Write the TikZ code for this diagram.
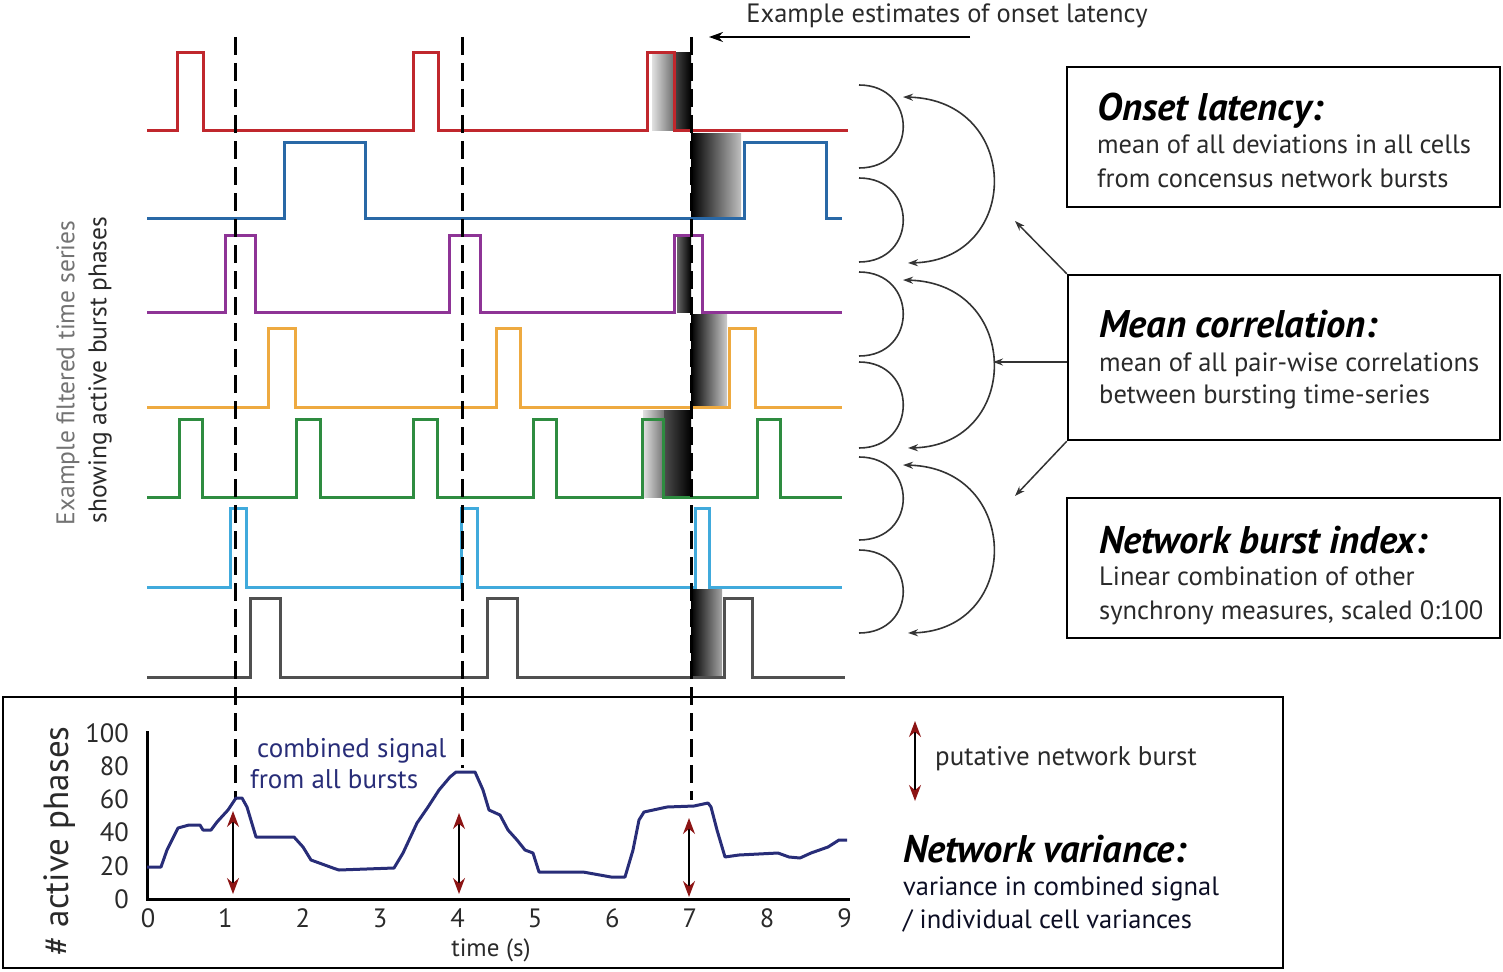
\documentclass[tikz,border=0pt]{standalone}
\usepackage{fontspec}
\setmainfont{PT Sans}
\usetikzlibrary{arrows.meta,calc}
\definecolor{tred}{HTML}{C0272D}
\definecolor{tblue}{HTML}{2968A6}
\definecolor{tpurple}{HTML}{8E3496}
\definecolor{torange}{HTML}{EEAA40}
\definecolor{tgreen}{HTML}{2E8C40}
\definecolor{tcyan}{HTML}{40AADC}
\definecolor{tgray}{HTML}{505050}
\definecolor{tnavy}{HTML}{282D78}
\definecolor{tdred}{HTML}{8C1414}
\definecolor{txt}{HTML}{2A2A2A}
\begin{document}
\begin{tikzpicture}[x=1pt,y=-1pt,
  trace/.style={line width=3pt,line join=miter},
  vdash/.style={line width=3pt,dash pattern=on 18pt off 8pt},
  smallarc/.style={line width=1.6pt,black!80},
  bigarc/.style={line width=1.6pt,black!80,{Stealth[length=10pt,width=7pt]}-{Stealth[length=10pt,width=7pt]}},
  conn/.style={line width=1.5pt,black!80,-{Stealth[length=10pt,width=7pt]}},
  box/.style={draw,line width=2.5pt,inner sep=0pt,fill=none},
  hdr/.style={font=\fontsize{38.5}{42}\selectfont\bfseries\itshape,anchor=base west,inner sep=0pt,text=black},
  body/.style={font=\fontsize{26.5}{30}\selectfont,anchor=base west,inner sep=0pt,text=txt},
  tick/.style={font=\fontsize{26.5}{30}\selectfont,inner sep=0pt,text=txt},
  burst/.style={line width=1.3pt,black,{Stealth[length=16pt,width=12pt,color=tdred]}-{Stealth[length=16pt,width=12pt,color=tdred]}}
]
\useasboundingbox (0,0) rectangle (1503,971);

% ---- gradients around third consensus burst ----
\shade[left color=black!12,right color=black!55] (652,53) rectangle (673,130);
\shade[left color=black!70,right color=black] (673,53) rectangle (691,130);
\shade[left color=black,right color=black!25] (691,133) rectangle (741,218);
\shade[left color=black!60,right color=black] (677,235) rectangle (691,312);
\shade[left color=black,right color=black!20] (691,314) rectangle (727,406);
\shade[left color=black!12,right color=black!55] (643,410) rectangle (664,497);
\shade[left color=black!70,right color=black] (664,410) rectangle (691,497);
\shade[left color=black,right color=black!35] (691,589) rectangle (722,677);

% ---- traces ----
\draw[trace,tred] (147,130) -| (177,53) -| (203,130) -| (413,53) -| (438,130) -| (647,53) -| (674,130) -- (848,130);
\draw[trace,tblue] (147,218) -| (284,142) -| (365,218) -| (744,142) -| (826,218) -- (842,218);
\draw[trace,tpurple] (147,312) -| (225,235) -| (255,312) -| (449,235) -| (480,312) -| (674,235) -| (702,312) -- (842,312);
\draw[trace,torange] (147,407) -| (268,328) -| (295,407) -| (496,328) -| (520,407) -| (729,328) -| (755,407) -- (842,407);
\draw[trace,tgreen] (147,497) -| (179,419) -| (202,497) -| (296,419) -| (320,497) -| (413,419) -| (437,497) -| (533,419) -| (556,497) -| (642,419) -| (663,497) -| (757,419) -| (780,497) -- (842,497);
\draw[trace,tcyan] (147,587) -| (230,508) -| (246,587) -| (461,508) -| (477,587) -| (695,508) -| (709,587) -- (842,587);
\draw[trace,tgray] (147,677) -| (250,598) -| (280,677) -| (487,598) -| (517,677) -| (724,598) -| (752,677) -- (845,677);

% ---- consensus lines ----
\coordinate (d1t) at (235,37); \coordinate (d1b) at (235,800);
\coordinate (d2t) at (462,37); \coordinate (d2b) at (462,768);
\coordinate (d3t) at (691,37); \coordinate (d3b) at (691,800);
\draw[vdash] (d1t) -- (d1b);
\draw[vdash] (d2t) -- (d2b);
\draw[vdash] (d3t) -- (d3b);

% ---- top label ----
\node[font=\fontsize{26.5}{30}\selectfont,text=txt,inner sep=0pt] (est) at (947,16) {Example estimates of onset latency};
\coordinate (estA) at (970,37);
\coordinate (estB) at (709,37);
\draw[line width=2pt,-{Stealth[length=14pt,width=10pt]}] (estA) -- (estB);

% ---- left labels ----
\node[rotate=90,font=\fontsize{25.5}{28}\selectfont,text=black!55,inner sep=0pt] (ylab1) at (68,373) {Example filtered time series};
\node[rotate=90,font=\fontsize{25.5}{28}\selectfont,text=txt,inner sep=0pt] (ylab2) at (100,370) {showing active burst phases};

% ---- small arcs ----
\foreach \a/\b in {85/168,178/262,272/356,362/448,457/540,550/633}{
  \draw[smallarc] (859,\a) .. controls (918,\a) and (918,\b) .. (859,\b);
}
% ---- big arcs ----
\foreach \a/\b in {97/263,280/448,465/633}{
  \draw[bigarc] (903,\a) .. controls (1022,\a+3) and (1022,\b-3) .. (908,\b);
}

% ---- boxes ----
\node[box,minimum width=433pt,minimum height=140pt] (onset) at (1283.5,137) {};
\node[box,minimum width=432pt,minimum height=165pt] (meancorr) at (1284,357.5) {};
\node[box,minimum width=433pt,minimum height=140pt] (nbi) at (1283.5,568) {};

\node[hdr] (t1) at (1097,121) {Onset latency:};
\node[body] (t1a) at (1097,153) {mean of all deviations in all cells};
\node[body] (t1b) at (1097,187) {from concensus network bursts};

\node[hdr] (t2) at (1099,337) {Mean correlation:};
\node[body] (t2a) at (1099,371) {mean of all pair-wise correlations};
\node[body] (t2b) at (1099,403) {between bursting time-series};

\node[hdr] (t3) at (1099,553) {Network burst index:};
\node[body] (t3a) at (1099,585) {Linear combination of other};
\node[body] (t3b) at (1099,619) {synchrony measures, scaled 0:100};

\coordinate (c1) at (1015,221);
\coordinate (c2) at (993,362);
\coordinate (c3) at (1015,496);
\draw[conn] (meancorr.north west) -- (c1);
\draw[conn] (meancorr.west |- c2) -- (c2);
\draw[conn] (meancorr.south west) -- (c3);

% ---- bottom panel ----
\node[box,minimum width=1280pt,minimum height=271pt] (panel) at (643,832.5) {};
\draw[line width=3pt] (147,731) -- (147,899) -- (850,899);
\foreach \v in {0,20,...,100}{
  \node[tick,anchor=east] (yt\v) at (129,{899-1.66*\v}) {\v};
}
\foreach \t in {0,...,9}{
  \node[tick] (xt\t) at ({148+77.4*\t},918) {\t};
}
\node[font=\fontsize{25}{28}\selectfont,text=txt,inner sep=0pt] (xlab) at (491,950) {time (s)};
\node[rotate=90,font=\fontsize{35}{38}\selectfont,text=txt,inner sep=0pt] (ylab) at (60,841) {\# active phases};

\draw[tnavy,line width=3pt,line join=round] (147,867) -- (161,867) -- (167,850) -- (178,828) -- (189,825) -- (200,825) -- (203,830) -- (211,830) -- (217,822) -- (228,810) -- (236,798) -- (242,798) -- (247,807) -- (256,837) -- (294,837) -- (303,847) -- (311,860) -- (333,868) -- (339,870) -- (394,868) -- (403,853) -- (417,823) -- (428,807) -- (439,790) -- (450,777) -- (456,772) -- (475,772) -- (483,790) -- (489,810) -- (500,815) -- (508,830) -- (517,840) -- (525,850) -- (533,853) -- (539,872) -- (583,872) -- (611,877) -- (625,877) -- (633,850) -- (639,820) -- (644,812) -- (667,807) -- (694,806) -- (708,803) -- (711,807) -- (717,830) -- (725,857) -- (739,855) -- (778,853) -- (789,857) -- (800,858) -- (811,853) -- (828,847) -- (839,840) -- (847,840);

\node[font=\fontsize{27}{30}\selectfont,text=tnavy,inner sep=0pt,anchor=base west] (cs1) at (257,757) {combined signal};
\node[font=\fontsize{27}{30}\selectfont,text=tnavy,inner sep=0pt,anchor=base west] (cs2) at (250,788) {from all bursts};

\coordinate (b1a) at (233,811); \coordinate (b1b) at (233,894);
\coordinate (b2a) at (459,813); \coordinate (b2b) at (459,894);
\coordinate (b3a) at (689,818); \coordinate (b3b) at (689,897);
\draw[burst] (b1a) -- (b1b);
\draw[burst] (b2a) -- (b2b);
\draw[burst] (b3a) -- (b3b);

\coordinate (lga) at (915,721); \coordinate (lgb) at (915,801);
\draw[burst] (lga) -- (lgb);
\node[font=\fontsize{27}{30}\selectfont,text=txt,inner sep=0pt,anchor=base west] (pnb) at (935,765) {putative network burst};
\node[hdr] (t4) at (903,862) {Network variance:};
\node[body,text=black!70!tnavy] (t4a) at (903,895) {variance in combined signal};
\node[body,text=black!70!tnavy] (t4b) at (903,928) {/ individual cell variances};
\end{tikzpicture}
\end{document}
